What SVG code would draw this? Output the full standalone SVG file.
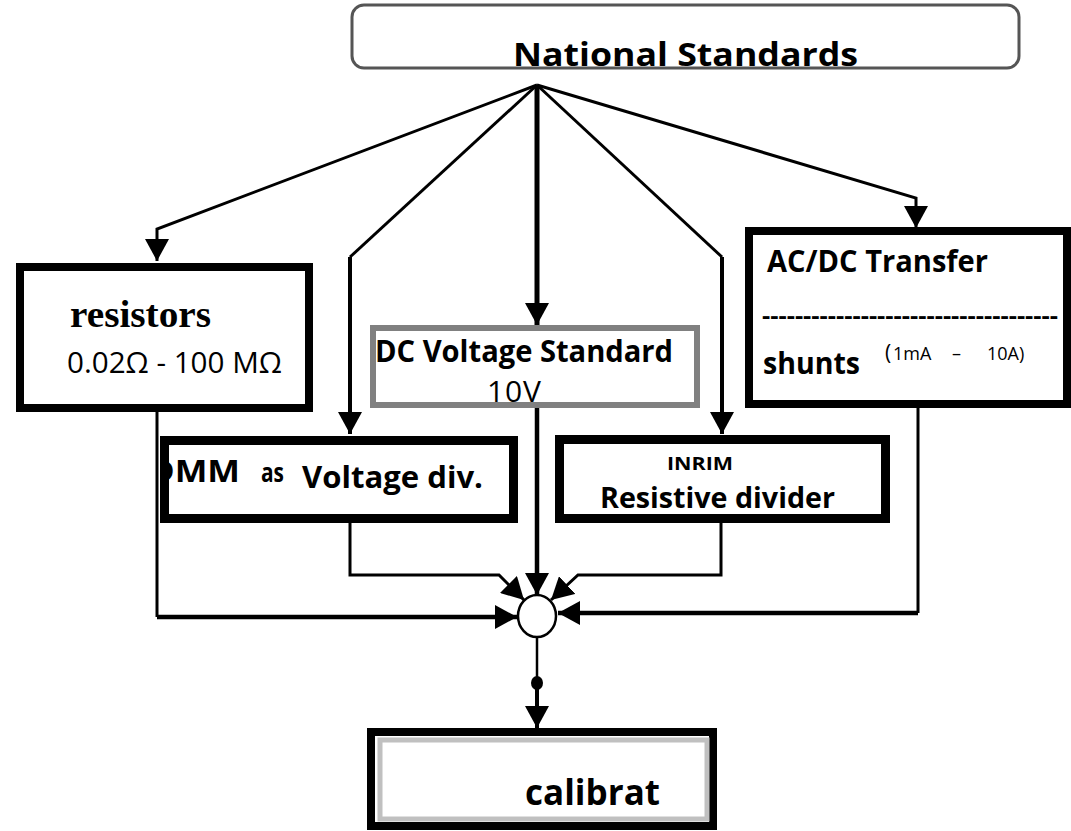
<svg xmlns="http://www.w3.org/2000/svg" width="1071" height="831" viewBox="0 0 1071 831">
<style>
.b{font-family:"Open Sans","Liberation Sans",sans-serif;font-weight:bold;fill:#000}
.r{font-family:"Open Sans","Liberation Sans",sans-serif;font-weight:normal;fill:#000}
.box{fill:#fff;stroke:#000}
.ln{fill:none;stroke:#000;stroke-linejoin:miter}
</style>
<defs>
<marker id="ah" viewBox="0 0 22 24" refX="22" refY="12" markerWidth="22" markerHeight="24" orient="auto" markerUnits="userSpaceOnUse">
<path d="M0,0 L22,12 L0,24 z" fill="#000"/>
</marker>
<clipPath id="dmmclip"><rect x="163" y="436" width="355" height="87"/></clipPath>
</defs>

<g id="connectors">
<path class="ln" stroke-width="3" d="M537,85 L157,229 L157,261" marker-end="url(#ah)"/>
<path class="ln" stroke-width="3" d="M537,85 L350,257"/>
<path class="ln" stroke-width="4" d="M350,257 L350,434" marker-end="url(#ah)"/>
<path class="ln" stroke-width="5" d="M537,85 L537,325" marker-end="url(#ah)"/>
<path class="ln" stroke-width="3" d="M537,85 L722,257"/>
<path class="ln" stroke-width="4" d="M722,257 L722,434" marker-end="url(#ah)"/>
<path class="ln" stroke-width="3" d="M537,85 L916,198 L916,228" marker-end="url(#ah)"/>

<path class="ln" stroke-width="3" d="M157,408 L157,617"/>
<path class="ln" stroke-width="4.5" d="M157,617 L517,617" marker-end="url(#ah)"/>
<path class="ln" stroke-width="3" d="M350,523 L350,575 L499,575 L524,600" marker-end="url(#ah)"/>
<path class="ln" stroke-width="4.5" d="M537,405 L537,595" marker-end="url(#ah)"/>
<path class="ln" stroke-width="3" d="M721,523 L721,575 L578,575 L551,600" marker-end="url(#ah)"/>
<path class="ln" stroke-width="3" d="M918,408 L918,613"/>
<path class="ln" stroke-width="4.5" d="M918,613 L558,613" marker-end="url(#ah)"/>

<path class="ln" stroke-width="2.5" d="M537,637 L537,683"/>
<path class="ln" stroke-width="4" d="M537,683 L537,728" marker-end="url(#ah)"/>
<ellipse cx="537" cy="683" rx="6" ry="7" fill="#000"/>
</g>

<g id="node-national">
<rect x="352" y="5" width="667" height="63" rx="12" ry="12" fill="#fff" stroke="#555" stroke-width="3"/>
<text class="b" x="513" y="66" font-size="32" textLength="345" lengthAdjust="spacingAndGlyphs">National Standards</text>
</g>

<g id="node-resistors">
<rect class="box" x="20" y="267" width="289" height="141" stroke-width="8"/>
<text x="70" y="327" font-family="'Liberation Serif','Times New Roman',serif" font-weight="bold" font-size="38" textLength="141" lengthAdjust="spacingAndGlyphs">resistors</text>
<text class="r" x="67" y="373" font-size="30" textLength="215" lengthAdjust="spacingAndGlyphs">0.02Ω - 100 MΩ</text>
</g>

<g id="node-dcv">
<rect x="373" y="328" width="324" height="77" fill="#fff" stroke="#808080" stroke-width="6"/>
<text class="b" x="375" y="362" font-size="30" textLength="298" lengthAdjust="spacingAndGlyphs">DC Voltage Standard</text>
<text class="r" x="487" y="402" font-size="30" textLength="54" lengthAdjust="spacing">10V</text>
</g>

<g id="node-dmm">
<rect x="164.5" y="440.5" width="349" height="78" fill="#fff" stroke="none"/>
<g clip-path="url(#dmmclip)">
<text class="b" x="149" y="482" font-size="30" textLength="91" lengthAdjust="spacingAndGlyphs">DMM</text>
</g>
<text class="b" x="261" y="482" font-size="27" textLength="23" lengthAdjust="spacingAndGlyphs">as</text>
<text class="b" x="302" y="488" font-size="30" textLength="181" lengthAdjust="spacingAndGlyphs">Voltage  div.</text>
<rect x="164.5" y="440.5" width="349" height="78" fill="none" stroke="#000" stroke-width="9"/>
</g>

<g id="node-inrim">
<rect class="box" x="559.5" y="439.5" width="326" height="79" stroke-width="9"/>
<text class="b" x="667" y="470" font-size="18" textLength="66" lengthAdjust="spacingAndGlyphs">INRIM</text>
<text class="b" x="600" y="508" font-size="29" textLength="235" lengthAdjust="spacingAndGlyphs">Resistive divider</text>
</g>

<g id="node-acdc">
<rect class="box" x="749" y="231" width="318" height="173" stroke-width="8"/>
<text class="b" x="767" y="272" font-size="30" textLength="221" lengthAdjust="spacingAndGlyphs">AC/DC Transfer</text>
<text class="b" x="762" y="324" font-size="24" textLength="296" lengthAdjust="spacingAndGlyphs">------------------------------------</text>
<text class="b" x="763" y="374" font-size="31" textLength="97" lengthAdjust="spacingAndGlyphs">shunts</text>
<text class="r" y="360" font-size="18"><tspan x="885" font-size="21">(</tspan><tspan x="893">1mA</tspan><tspan x="952">–</tspan><tspan x="987">10A)</tspan></text>
</g>

<g id="node-sum">
<ellipse cx="537" cy="616" rx="19" ry="21" fill="#fff" stroke="#000" stroke-width="2.5"/>
</g>

<g id="node-calibrat">
<rect class="box" x="371" y="732" width="342" height="94" stroke-width="8"/>
<rect x="380" y="740" width="327" height="79" fill="none" stroke="#c0c0c0" stroke-width="5"/>
<text class="b" x="525" y="805" font-size="36" textLength="135" lengthAdjust="spacingAndGlyphs">calibrat</text>
</g>
</svg>
